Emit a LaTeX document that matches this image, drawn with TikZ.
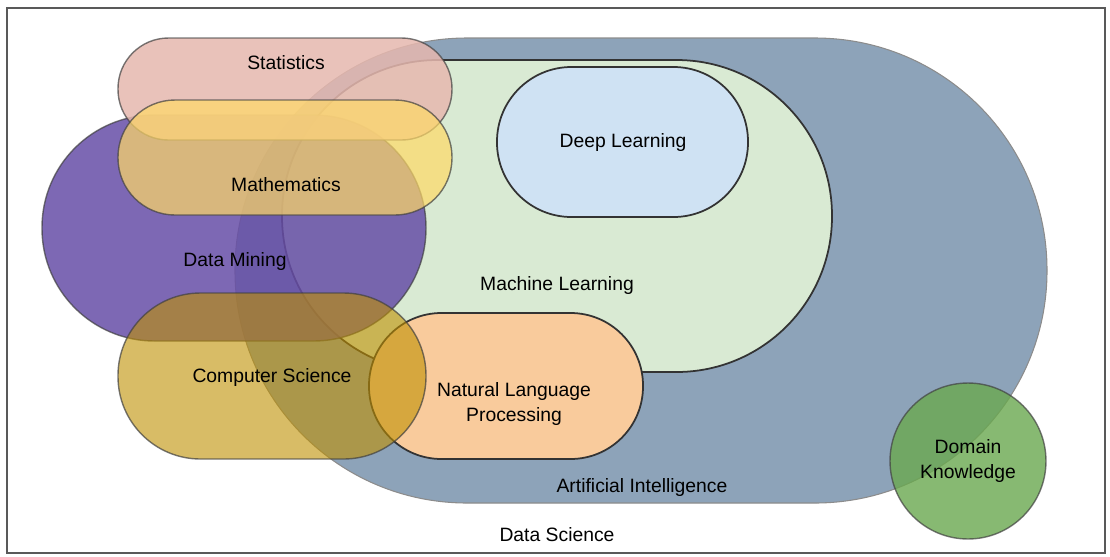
\documentclass[tikz,border=0pt]{standalone}
\usepackage{fontspec}
\setmainfont{Liberation Sans}
\usetikzlibrary{positioning}

\definecolor{aiblue}{HTML}{8DA3B9}
\definecolor{mlgreen}{HTML}{D9EAD3}
\definecolor{dlblue}{HTML}{CFE2F3}
\definecolor{nlporange}{HTML}{F9CB9C}
\definecolor{statpink}{HTML}{E6B8AF}
\definecolor{mathyellow}{HTML}{FFD966}
\definecolor{dmpurple}{HTML}{674EA7}
\definecolor{csgold}{HTML}{BF9000}
\definecolor{dkgreen}{HTML}{6AA84F}

\begin{document}
\begin{tikzpicture}[x=0.02cm,y=-0.02cm,
    lbl/.style={font=\fontsize{11}{14.5}\selectfont,text=black,align=center,inner sep=0pt},
    flat/.style={draw=black!80,line width=1pt},
    glass/.style={draw=black!75,line width=0.8pt,draw opacity=0.7}]

    \useasboundingbox (0,0) rectangle (1110,556);
    \fill[white] (0,0) rectangle (1110,556);
    \draw[black!65,line width=1.3pt] (7,8) rectangle (1105,553);

    % nested fields
    \filldraw[fill=aiblue,draw=black!45,line width=0.6pt,rounded corners=4.64cm] (235,38) rectangle (1047,503);
    \filldraw[flat,fill=mlgreen,rounded corners=3.11cm] (282,60) rectangle (832,372);
    \filldraw[flat,fill=dlblue,rounded corners=1.49cm] (497,67) rectangle (748,217);
    \filldraw[flat,fill=nlporange,rounded corners=1.45cm] (369,313) rectangle (643,459);

    % overlapping fields
    \filldraw[glass,fill=dmpurple,fill opacity=0.85,rounded corners=2.25cm] (42,115) rectangle (426,341);
    \filldraw[glass,fill=statpink,fill opacity=0.85,rounded corners=1.01cm] (118,38) rectangle (452,140);
    \filldraw[glass,fill=mathyellow,fill opacity=0.7,rounded corners=1.14cm] (118,100) rectangle (452,215);
    \filldraw[glass,fill=csgold,fill opacity=0.6,rounded corners=1.65cm] (118,293) rectangle (426,459);
    \filldraw[glass,fill=dkgreen,fill opacity=0.8] (968,461) circle [radius=1.56cm];

    \node[lbl] (stat) at (286,63) {Statistics};
    \node[lbl] (math) at (286,185) {Mathematics};
    \node[lbl] (dm) at (235,261) {Data Mining};
    \node[lbl] (dl) at (623,142) {Deep Learning};
    \node[lbl] (ml) at (557,285) {Machine Learning};
    \node[lbl] (cs) at (272,377) {Computer Science};
    \node[lbl] (nlp) at (514,404) {Natural Language\\Processing};
    \node[lbl] (ai) at (642,487) {Artificial Intelligence};
    \node[lbl] (dk) at (968,461) {Domain\\Knowledge};
    \node[lbl] (ds) at (557,535) {Data Science};
\end{tikzpicture}
\end{document}
